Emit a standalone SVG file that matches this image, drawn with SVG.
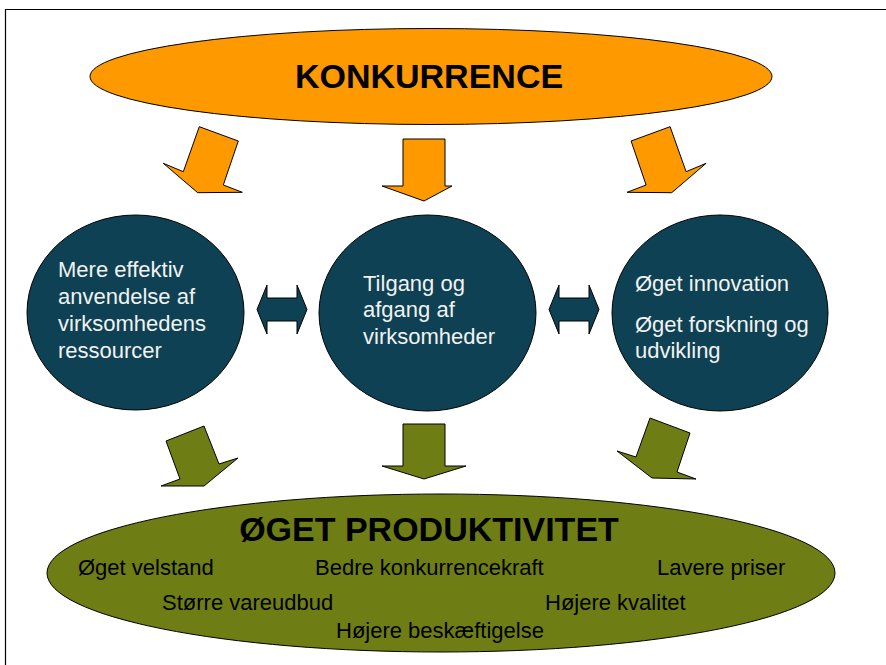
<svg xmlns="http://www.w3.org/2000/svg" width="886" height="665" viewBox="0 0 886 665">
<style>
.frame{fill:none;stroke:#000;stroke-width:1.2}
.orange{fill:#ff9900;stroke:#000;stroke-width:1}
.green{fill:#6e7e14;stroke:#000;stroke-width:1}
.teal{fill:#0e4153;stroke:#000;stroke-width:1}
.title{font-family:"Liberation Sans",Arial,sans-serif;font-weight:bold;font-size:34px;fill:#000}
.ct{font-family:"Liberation Sans",Arial,sans-serif;font-size:22px;fill:#f2f2f2}
.bt{font-family:"Liberation Sans",Arial,sans-serif;font-size:22px;fill:#000}
</style>
<rect width="886" height="665" fill="#fff"/>
<path class="frame" d="M5.5,665 V9.5 H886"/>

<g id="konkurrence">
<ellipse class="orange" cx="431" cy="76.5" rx="341" ry="48"/>
<text class="title" x="429" y="88" text-anchor="middle">KONKURRENCE</text>
</g>

<g id="node-left">
<ellipse class="teal" cx="135.5" cy="312.5" rx="108.5" ry="97.5"/>
<text class="ct" x="58" y="277">Mere effektiv</text>
<text class="ct" x="58" y="304">anvendelse af</text>
<text class="ct" x="58" y="331">virksomhedens</text>
<text class="ct" x="58" y="358">ressourcer</text>
</g>

<g id="node-middle">
<ellipse class="teal" cx="427.5" cy="313" rx="108.5" ry="98"/>
<text class="ct" x="363" y="291">Tilgang og</text>
<text class="ct" x="363" y="317">afgang af</text>
<text class="ct" x="363" y="344">virksomheder</text>
</g>

<g id="node-right">
<ellipse class="teal" cx="720" cy="313" rx="108" ry="98"/>
<text class="ct" x="635" y="291">Øget innovation</text>
<text class="ct" x="635" y="332">Øget forskning og</text>
<text class="ct" x="635" y="358">udvikling</text>
</g>

<g id="produktivitet">
<ellipse class="green" cx="441" cy="573" rx="394" ry="79"/>
<text class="title" x="429" y="541" text-anchor="middle">ØGET PRODUKTIVITET</text>
<text class="bt" x="78" y="575">Øget velstand</text>
<text class="bt" x="315" y="575">Bedre konkurrencekraft</text>
<text class="bt" x="657" y="575">Lavere priser</text>
<text class="bt" x="162" y="610">Større vareudbud</text>
<text class="bt" x="545" y="610">Højere kvalitet</text>
<text class="bt" x="336" y="638">Højere beskæftigelse</text>
</g>

<g id="connectors">
<polygon class="orange" points="199.3,126.7 238.3,141 223.3,185 242.3,192.3 197.7,192.7 163.3,163.3 183.3,171.7"/>
<polygon class="orange" points="403,139 445,139 445,186 452,186 424,201 382,186 403,186"/>
<polygon class="orange" points="670.1,126.7 631.1,141 646.1,185 627.1,192.3 671.7,192.7 706.1,163.3 686.1,171.7"/>

<polygon class="teal" points="257,309.5 267,285 267,298 297,298 297,285 307,309.5 297,334 297,321 267,321 267,334"/>
<polygon class="teal" points="549,309.5 559,285 559,298 589,298 589,285 599,309.5 589,334 589,321 559,321 559,334"/>

<polygon class="green" points="166,441 204,426 219,464 238,458 204,486 161,486 180,479"/>
<polygon class="green" points="403,424 445,424 445,466 466,466 424,479 382,466 403,466"/>
<polygon class="green" points="650,418 690,433 677,472 696,479 652,478 617,451 636,457"/>
</g>
</svg>
